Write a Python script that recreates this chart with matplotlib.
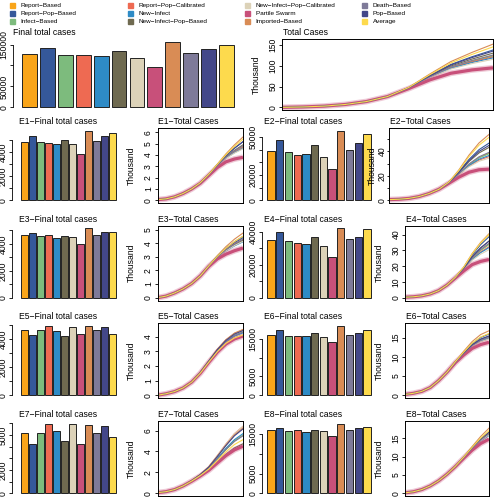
import numpy as np
import matplotlib
matplotlib.use("Agg")
import matplotlib.pyplot as plt
from matplotlib.patches import Rectangle

plt.rcParams['font.family'] = ['Liberation Sans', 'DejaVu Sans']

W, H = 495, 500
DASH = "\u2212"

methods = ["Report-Based", "Report-Pop-Based", "Infect-Based",
           "Report-Pop-Calibrated", "New-Infect", "New-Infect-Pop-Based",
           "New-Infect-Pop-Calibrated", "Partile Swarm", "Imported-Based",
           "Death-Based", "Pop-Based", "Average"]
colors = ["#F9A51A", "#35589A", "#7DBB7D", "#EE6A52", "#2E8BC6", "#6F6A50",
          "#DCD2B8", "#C8507A", "#D98C55", "#7E7A99", "#434789", "#FDDA4D"]

# final total cases per method (bar heights)
final_all = [127700, 141900, 126000, 124000, 121600, 133800, 118000, 96000, 157000, 129000, 139000, 150000]
final_e = {
    "E1": [4860, 5300, 4810, 4760, 4680, 5000, 4620, 3810, 5750, 4920, 5300, 5540],
    "E2": [38800, 47500, 38300, 35800, 36800, 43800, 34500, 25000, 55000, 39500, 45500, 52500],
    "E3": [4650, 4780, 4580, 4650, 4460, 4580, 4500, 3970, 5150, 4650, 4880, 4900],
    "E4": [35000, 40000, 34600, 33200, 32600, 37000, 31200, 24500, 42000, 35500, 37000, 41400],
    "E5": [4650, 4300, 4630, 4880, 4560, 4230, 4810, 4350, 4930, 4650, 4810, 4350],
    "E6": [16000, 17300, 15900, 15800, 15700, 16500, 15500, 14300, 18500, 16100, 16600, 17500],
    "E7": [5190, 4240, 5190, 5960, 5330, 4450, 5960, 4240, 5820, 5140, 5740, 4810],
    "E8": [16100, 16500, 15900, 16200, 15700, 16100, 15900, 14700, 17700, 16200, 16700, 17000],
}

# bar y axis: tick step and which ticks carry a label
bar_step = {"all": 50000, "E1": 1000, "E2": 10000, "E3": 1000, "E4": 10000,
            "E5": 1000, "E6": 5000, "E7": 1000, "E8": 5000}
bar_labels = {"all": [0, 50000, 150000], "E1": [0, 2000, 4000], "E2": [0, 20000, 50000],
              "E3": [0, 2000, 4000], "E4": [0, 20000, 40000], "E5": [0, 2000, 4000],
              "E6": [0, 5000, 15000], "E7": [0, 2000, 5000], "E8": [0, 5000, 15000]}

# total cases curves (thousand), read at 11 evenly spaced days
days = list(range(0, 101, 10))
curve_lo = {
    "all": [0, 1, 3, 7, 14, 26, 45, 66, 82, 90, 95],
    "E1": [0.05, 0.12, 0.3, 0.6, 1.0, 1.5, 2.2, 2.9, 3.4, 3.65, 3.8],
    "E2": [0.5, 0.8, 1.5, 3, 5.5, 9, 14, 19, 23, 25, 25.5],
    "E3": [0, 0.12, 0.35, 0.65, 1.05, 1.6, 2.3, 2.85, 3.2, 3.45, 3.65],
    "E4": [0.3, 0.6, 1.2, 2.4, 4.5, 8, 12.5, 17, 21, 23, 24.2],
    "E5": [0, 0.1, 0.25, 0.5, 0.9, 1.5, 2.25, 2.95, 3.5, 3.85, 4.05],
    "E6": [0.2, 0.5, 1.0, 2.0, 3.8, 6.0, 8.5, 10.5, 12.2, 13.2, 13.8],
    "E7": [0.05, 0.15, 0.35, 0.7, 1.15, 1.65, 2.2, 2.9, 3.6, 4.15, 4.5],
    "E8": [0.1, 0.4, 1.0, 2.0, 3.4, 5.2, 7.3, 9.6, 11.8, 13.6, 14.8],
}
curve_hi = {
    "all": [0, 1, 3, 7, 14, 26, 48, 80, 110, 132, 152],
    "E1": [0.05, 0.12, 0.3, 0.6, 1.0, 1.55, 2.3, 3.2, 4.1, 4.9, 5.6],
    "E2": [0.5, 0.8, 1.5, 3, 5.5, 9, 15, 25, 37, 47, 54],
    "E3": [0, 0.12, 0.35, 0.65, 1.05, 1.6, 2.35, 3.1, 3.75, 4.3, 4.75],
    "E4": [0.3, 0.6, 1.2, 2.4, 4.5, 8, 13, 19.5, 28, 35, 40.5],
    "E5": [0, 0.1, 0.25, 0.5, 0.9, 1.55, 2.35, 3.15, 3.8, 4.25, 4.5],
    "E6": [0.2, 0.5, 1.0, 2.0, 3.8, 6.0, 8.8, 11.5, 14.0, 15.8, 16.8],
    "E7": [0.05, 0.15, 0.35, 0.7, 1.2, 1.8, 2.55, 3.6, 4.7, 5.7, 6.4],
    "E8": [0.1, 0.4, 1.0, 2.0, 3.4, 5.2, 7.4, 10.0, 12.8, 15.5, 17.8],
}
line_top = {"all": 158, "E1": 6.15, "E2": 57, "E3": 5.1, "E4": 44, "E5": 4.75,
            "E6": 18.1, "E7": 6.65, "E8": 19}
line_step = {"all": 50, "E1": 1, "E2": 10, "E3": 1, "E4": 10, "E5": 1, "E6": 5, "E7": 2, "E8": 5}
line_labels = {"all": [0, 50, 100, 150], "E1": [0, 1, 2, 3, 4, 5, 6], "E2": [0, 20, 40],
               "E3": [0, 1, 2, 3, 4, 5], "E4": [0, 10, 20, 30, 40], "E5": [0, 1, 2, 3, 4],
               "E6": [0, 5, 10, 15], "E7": [0, 2, 4, 6], "E8": [0, 5, 10, 15]}

FS = 6.2


def px_rect(x0, y0, x1, y1):
    return [x0 / W, 1 - y1 / H, (x1 - x0) / W, (y1 - y0) / H]


def y_axis(ax, step, labelled, top, tick_len=2.5, pad=0.8):
    ticks = np.arange(0, top + 1e-9, step)
    ax.set_yticks(ticks)
    ax.set_yticklabels([f"{t:g}" if t in labelled else "" for t in ticks],
                       rotation=90, va="center")
    ax.tick_params(axis="y", length=tick_len, width=0.6, pad=pad, labelsize=FS)
    return ticks


def add_title(ax, text, dx):
    ax.annotate(text, xy=(0, 1), xycoords="axes fraction", xytext=(dx * 0.72, 1.2),
                textcoords="offset points", ha="left", va="bottom", fontsize=FS)


def bar_panel(fig, key, values, axis_x, bar_l, bar_r, y0, y1, title, title_x):
    wid = 0.833
    p = (bar_r - bar_l) / (11 + wid)
    c0 = bar_l + wid * p / 2
    right = bar_r + 3
    ax = fig.add_axes(px_rect(axis_x, y0, right, y1))
    ax.bar(range(12), values, width=wid, color=colors, edgecolor="#222222", linewidth=0.7)
    ax.set_xlim(-(c0 - axis_x) / p, 11 + (right - (c0 + 11 * p)) / p)
    top = max(values)
    ax.set_ylim(-0.04 * top, 1.04 * top)
    ticks = y_axis(ax, bar_step[key], bar_labels[key], 1.04 * top)
    for s in ["top", "right", "bottom"]:
        ax.spines[s].set_visible(False)
    ax.spines["left"].set_linewidth(0.6)
    ax.spines["left"].set_bounds(0, ticks[-1])
    ax.set_xticks([])
    ax.patch.set_alpha(0)
    add_title(ax, title, title_x - axis_x)


def line_panel(fig, key, finals, x0, x1, y0, y1, title, lab_dx=26, tick_len=2.5, pad=0.8):
    ax = fig.add_axes(px_rect(x0, y0, x1, y1))
    lo = np.array(curve_lo[key])
    hi = np.array(curve_hi[key])
    fmin, fmax = min(finals), max(finals)
    for i in range(12):
        w = (finals[i] - fmin) / (fmax - fmin)
        y = lo + (hi - lo) * w
        if i == 7:
            ax.plot(days, lo, color=colors[i], lw=4.2, alpha=0.3, solid_capstyle="butt")
            ax.plot(days, lo, color=colors[i], lw=2.3, solid_capstyle="butt")
        else:
            ax.plot(days, y, color=colors[i], lw=0.8)
    top = line_top[key]
    ax.set_xlim(0, 100)
    ax.set_ylim(-0.04 * top, 1.04 * top)
    y_axis(ax, line_step[key], line_labels[key], 1.04 * top, tick_len, pad)
    ax.set_xticks([])
    for s in ax.spines.values():
        s.set_linewidth(0.7)
    ax.annotate("Thousand", xy=(0, 0.5), xycoords="axes fraction", xytext=(-lab_dx * 0.72, 0),
                textcoords="offset points", rotation=90, ha="center", va="center", fontsize=FS)
    add_title(ax, title, 1)


fig = plt.figure(figsize=(W / 100, H / 100), dpi=100)

# legend
sq_x = [12.3, 130, 247.3, 364.3]
sq_y = [5.7, 13.7, 21.7]
for i, (m, c) in enumerate(zip(methods, colors)):
    cx, cy = sq_x[i // 3], sq_y[i % 3]
    fig.patches.append(Rectangle(((cx - 2.5) / W, 1 - (cy + 2.5) / H), 5 / W, 5 / H,
                                 transform=fig.transFigure, color=c))
    fig.text((cx + 8.4) / W, 1 - cy / H, m.replace("-", DASH), fontsize=4.6,
             va="center", ha="left")

# overall panels
bar_panel(fig, "all", final_all, 12.8, 21.7, 234.3, 39, 110, "Final total cases", 13)
line_panel(fig, "all", final_all, 282, 493, 39, 110, "Total Cases")

rows = [(128, 203), (225.5, 300.5), (323, 398), (421, 496)]
for r, (y0, y1) in enumerate(rows):
    for c in range(2):
        key = f"E{2 * r + c + 1}"
        vals = final_e[key]
        if c == 0:
            bar_panel(fig, key, vals, 12.2, 21, 115.7, y0, y1, f"{key}{DASH}Final total cases", 19)
            line_panel(fig, key, vals, 157.5, 243, y0, y1, f"{key}{DASH}Total Cases")
        else:
            bar_panel(fig, key, vals, 262, 267.3, 370.7, y0, y1, f"{key}{DASH}Final total cases", 264)
            if key == "E2":
                line_panel(fig, key, vals, 389, 489, y0, y1, f"{key}{DASH}Total Cases",
                           lab_dx=16.5, tick_len=1.5, pad=0.3)
            else:
                line_panel(fig, key, vals, 405, 489, y0, y1, f"{key}{DASH}Total Cases")

fig.savefig("out.png", dpi=100)
